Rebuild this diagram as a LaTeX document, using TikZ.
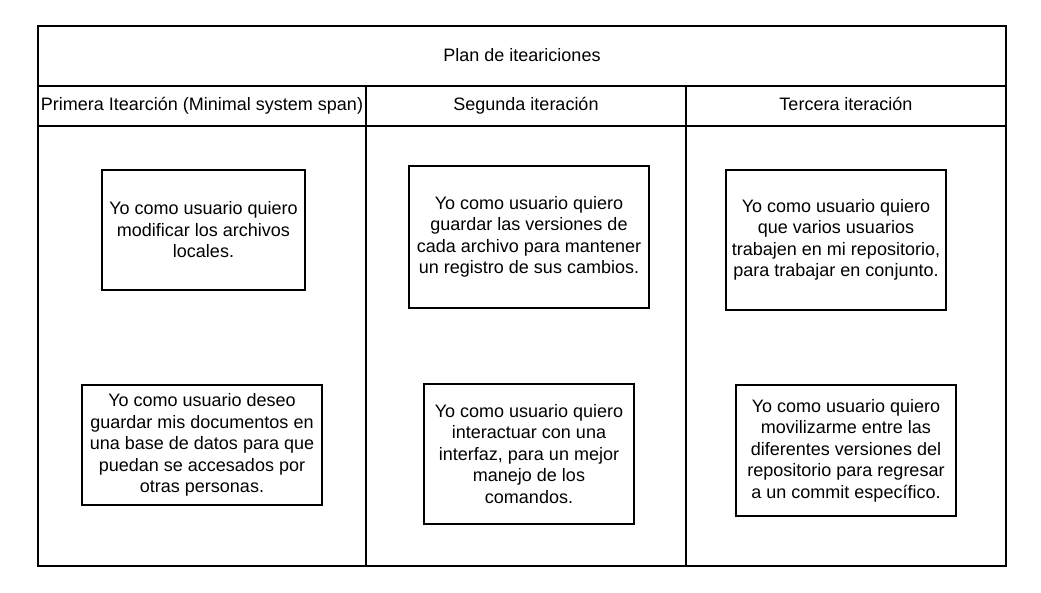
\documentclass[tikz,border=0pt]{standalone}
\usepackage{fontspec}
\setmainfont{Liberation Sans}
\usepackage{tikz}

\tikzset{
  frame/.style={line width=2pt, line cap=rect},
  story/.style={draw, line width=2pt, align=center, inner sep=0pt,
    font=\fontsize{18}{21.5}\selectfont},
  head/.style={align=center, inner sep=0pt, text height=13pt, text depth=4pt,
    font=\fontsize{18}{21.5}\selectfont}
}

\begin{document}
\begin{tikzpicture}[x=1pt, y=-1pt]

\useasboundingbox (0,0) rectangle (1041,593);

%%%%%%%%%%%%%%%%%%%%%%%%%%%%%%%%%%%%%%%%%%%%%%%%%%%%%%%%%%%%%%%%
% Table
%%%%%%%%%%%%%%%%%%%%%%%%%%%%%%%%%%%%%%%%%%%%%%%%%%%%%%%%%%%%%%%%

% Border and rows
\draw [frame] (38,26) to (1006,26);
\draw [frame] (1006,26) to (1006,566);
\draw [frame] (1006,566) to (38,566);
\draw [frame] (38,566) to (38,26);

\draw [frame] (38,86) to (1006,86);
\draw [frame] (38,126) to (1006,126);

% Columns
\draw [frame] (366,86) to (366,566);
\draw [frame] (686,86) to (686,566);

% Headers
\node [head] (plan) at (522,57.5) {Plan de iteariciones};
\node [head] (first) at (202,106.5) {Primera Itearción (Minimal system span)};
\node [head] (second) at (526,106.5) {Segunda iteración};
\node [head] (third) at (846,106.5) {Tercera iteración};

%%%%%%%%%%%%%%%%%%%%%%%%%%%%%%%%%%%%%%%%%%%%%%%%%%%%%%%%%%%%%%%%
% Primera iteracion
%%%%%%%%%%%%%%%%%%%%%%%%%%%%%%%%%%%%%%%%%%%%%%%%%%%%%%%%%%%%%%%%

\node [story, minimum width=203pt, minimum height=120pt] (local) at (203.5,230)
  {Yo como usuario quiero\\modificar los archivos\\locales.};

\node [story, minimum width=240pt, minimum height=120pt] (base) at (202,445)
  {Yo como usuario deseo\\guardar mis documentos en\\una base de datos para que\\puedan se accesados por\\otras personas.};

%%%%%%%%%%%%%%%%%%%%%%%%%%%%%%%%%%%%%%%%%%%%%%%%%%%%%%%%%%%%%%%%
% Segunda iteracion
%%%%%%%%%%%%%%%%%%%%%%%%%%%%%%%%%%%%%%%%%%%%%%%%%%%%%%%%%%%%%%%%

\node [story, minimum width=240pt, minimum height=142pt] (versions) at (529,237)
  {Yo como usuario quiero\\guardar las versiones de\\cada archivo para mantener\\un registro de sus cambios.};

\node [story, minimum width=210pt, minimum height=140pt] (interface) at (529,454)
  {Yo como usuario quiero\\interactuar con una\\interfaz, para un mejor\\manejo de los\\comandos.};

%%%%%%%%%%%%%%%%%%%%%%%%%%%%%%%%%%%%%%%%%%%%%%%%%%%%%%%%%%%%%%%%
% Tercera iteracion
%%%%%%%%%%%%%%%%%%%%%%%%%%%%%%%%%%%%%%%%%%%%%%%%%%%%%%%%%%%%%%%%

\node [story, minimum width=220pt, minimum height=140pt] (users) at (836,240)
  {Yo como usuario quiero\\que varios usuarios\\trabajen en mi repositorio,\\para trabajar en conjunto.};

\node [story, minimum width=220pt, minimum height=131pt] (commit) at (846,450.5)
  {Yo como usuario quiero\\movilizarme entre las\\diferentes versiones del\\repositorio para regresar\\a un commit específico.};

\end{tikzpicture}
\end{document}
